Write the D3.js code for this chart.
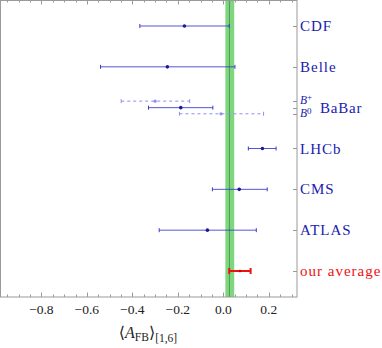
<!DOCTYPE html>
<html>
<head>
<meta charset="utf-8">
<script src="https://cdn.jsdelivr.net/npm/d3@7"></script>
<style>
  body { margin: 0; background: #fff; }
</style>
</head>
<body>
<div id="app"></div>
<script>
// measurements: label, row, low, central, high
const experiments = ["CDF", "Belle", "BaBar", "LHCb", "CMS", "ATLAS", "our average"];
const rows = [7, 6, 5, 4, 3, 2, 1];
const centrals = [-0.171, -0.246, -0.187, 0.172, 0.07, -0.07, 0.073];
const lows = [-0.367, -0.54, -0.329, 0.11, -0.048, -0.282, 0.026];
const highs = [0.026, 0.051, -0.046, 0.232, 0.193, 0.145, 0.12];

// BaBar split by B+ / B0 (dashed)
const babarParts = ["B+", "B0"];
const babarRows = [5.16, 4.85];
const babarCentrals = [-0.30, -0.01];
const babarLows = [-0.449, -0.193];
const babarHighs = [-0.148, 0.177];

// SM prediction band
const band = [0.009, 0.048];
const bandCenter = 0.027;

const majorTicks = [-0.8, -0.6, -0.4, -0.2, 0.0, 0.2];
const minorTicks = d3.range(-0.95, 0.33, 0.05).map((d) => +d.toFixed(2));
const rightTicks = [7, 6, 5.16, 5, 4.85, 4, 3, 2, 1];

const W = 382, H = 348;
const plotW = 297, plotH = 297;
const serif = "'Liberation Serif', 'Times New Roman', 'DejaVu Serif', serif";

const svg = d3.select("#app").append("svg")
  .attr("width", W).attr("height", H)
  .attr("font-family", serif);

const x = d3.scaleLinear().domain([-0.982, 0.324]).range([0, plotW]);
const y = d3.scaleLinear().domain([0.363, 7.637]).range([plotH, 0]);

const blue = "#2020b0";
const red = "#ee1111";
const frame = "#9a9a9a";

//green band
svg.append("rect")
  .attr("x", x(band[0])).attr("y", 0)
  .attr("width", x(band[1]) - x(band[0])).attr("height", plotH)
  .style("fill", "#7fd67f");
svg.append("line")
  .attr("x1", x(bandCenter)).attr("x2", x(bandCenter))
  .attr("y1", 0).attr("y2", plotH)
  .style("stroke", "#4f9a5a").style("stroke-width", 1);

//frame
const g = svg.append("g").attr("transform", "translate(0.5,0.5)");
g.append("rect")
  .attr("x", 0).attr("y", 0).attr("width", plotW - 0.5).attr("height", plotH - 0.5)
  .style("fill", "none").style("stroke", frame);

//ticks bottom / top
const tickG = svg.append("g").style("stroke", frame).style("stroke-width", 1);
minorTicks.forEach((v) => {
  const major = majorTicks.some((m) => Math.abs(m - v) < 1e-6);
  const len = major ? 4.5 : 2.5;
  const px = Math.round(x(v)) + 0.5;
  tickG.append("line").attr("x1", px).attr("x2", px)
    .attr("y1", plotH).attr("y2", plotH - len);
  tickG.append("line").attr("x1", px).attr("x2", px)
    .attr("y1", 0).attr("y2", len);
});
rightTicks.forEach((v) => {
  const py = Math.round(y(v)) + 0.5;
  tickG.append("line").attr("x1", plotW - 4).attr("x2", plotW)
    .attr("y1", py).attr("y2", py);
});

//bottom tick labels
svg.selectAll(".xlab").data(majorTicks).enter().append("text")
  .attr("x", (d) => x(d))
  .attr("y", 314)
  .attr("text-anchor", "middle")
  .style("font-size", "13.5px")
  .style("fill", "#222")
  .text((d) => (d < 0 ? "\u2212" : "") + Math.abs(d).toFixed(1));

//axis title
const title = svg.append("text")
  .attr("x", 148).attr("y", 338)
  .attr("text-anchor", "middle")
  .style("font-size", "16px").style("fill", "#222");
title.append("tspan").text("\u27e8");
title.append("tspan").style("font-style", "italic").text("A");
title.append("tspan").attr("dy", 3).style("font-size", "11.5px").text("FB");
title.append("tspan").attr("dy", -3).text("\u27e9");
title.append("tspan").attr("dy", 4).style("font-size", "11.5px").text("[1,6]");

//dashed BaBar parts
babarParts.forEach((p, i) => {
  const yy = y(babarRows[i]);
  const c = "#8f8ff0";
  svg.append("line").attr("x1", x(babarLows[i])).attr("x2", x(babarHighs[i]))
    .attr("y1", yy).attr("y2", yy)
    .style("stroke", c).style("stroke-dasharray", "3,3");
  [babarLows[i], babarHighs[i]].forEach((v) => {
    svg.append("line").attr("x1", x(v)).attr("x2", x(v))
      .attr("y1", yy - 2).attr("y2", yy + 2).style("stroke", c);
  });
  svg.append("circle").attr("cx", x(babarCentrals[i])).attr("cy", yy)
    .attr("r", 1.6).style("fill", c);
});

//measurements
experiments.forEach((e, i) => {
  const yy = y(rows[i]);
  const avg = e === "our average";
  const c = avg ? red : "#3a3ad0";
  const sw = avg ? 2 : 1;
  const cap = avg ? 3 : 2;
  svg.append("line").attr("x1", x(lows[i])).attr("x2", x(highs[i]))
    .attr("y1", yy).attr("y2", yy)
    .style("stroke", c).style("stroke-width", sw)
    .style("opacity", avg ? 1 : 0.85);
  [lows[i], highs[i]].forEach((v) => {
    svg.append("line").attr("x1", x(v)).attr("x2", x(v))
      .attr("y1", yy - cap).attr("y2", yy + cap)
      .style("stroke", c).style("stroke-width", sw);
  });
  svg.append("circle").attr("cx", x(centrals[i])).attr("cy", yy)
    .attr("r", avg ? 1.3 : 1.8).style("fill", avg ? "#c00" : "#1a1a9a");
});

//right labels
experiments.forEach((e, i) => {
  if (e === "BaBar") return;
  svg.append("text")
    .attr("x", 300).attr("y", y(rows[i]) + 5)
    .style("font-size", "15px")
    .style("letter-spacing", "1px")
    .style("fill", e === "our average" ? red : blue)
    .text(e);
});
const bb = svg.append("g").style("fill", blue);
const bp = bb.append("text").attr("x", 300).attr("y", 104).style("font-size", "11.5px");
bp.append("tspan").style("font-style", "italic").text("B");
bp.append("tspan").attr("dy", -4).style("font-size", "9px").text("+");
const b0 = bb.append("text").attr("x", 300).attr("y", 117).style("font-size", "11.5px");
b0.append("tspan").style("font-style", "italic").text("B");
b0.append("tspan").attr("dy", -3).style("font-size", "9px").text("0");
bb.append("text").attr("x", 320).attr("y", 113).style("font-size", "15px")
  .style("letter-spacing", "0.8px").text("BaBar");
</script>
</body>
</html>
